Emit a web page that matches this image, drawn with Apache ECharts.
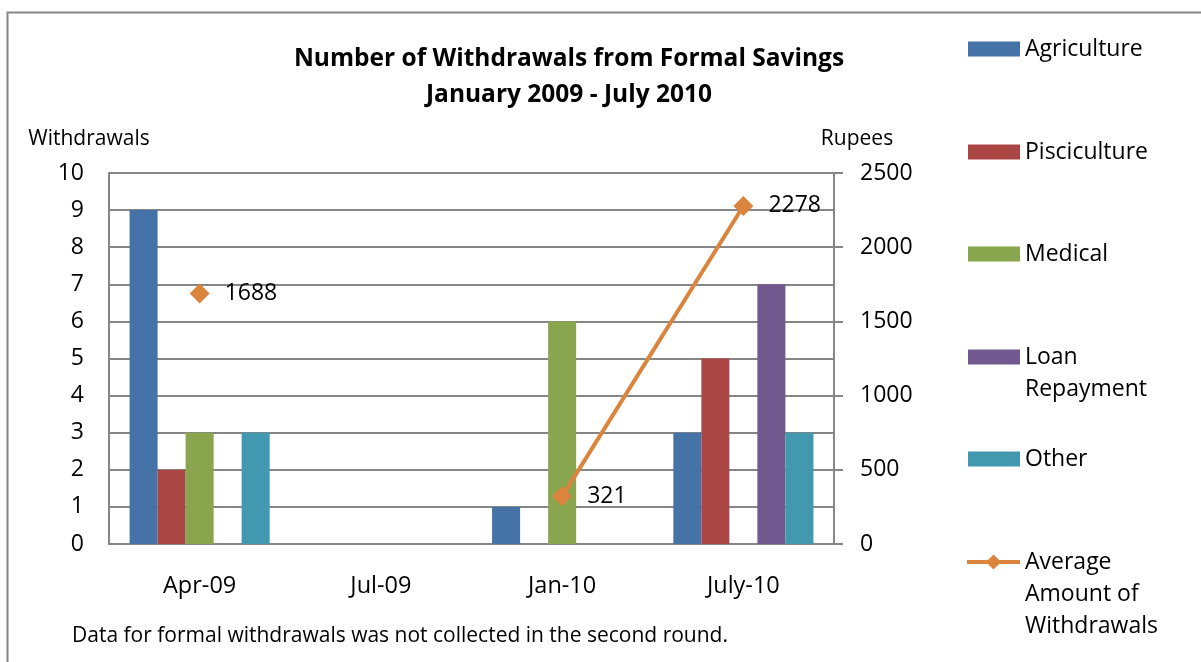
<!DOCTYPE html>
<html>
<head>
<meta charset="utf-8">
<title>Number of Withdrawals from Formal Savings</title>
<script src="https://cdn.jsdelivr.net/npm/echarts@6/dist/echarts.min.js"></script>
<style>
  html, body { margin: 0; padding: 0; background: #fff; }
  #chart { width: 1201px; height: 662px; }
</style>
</head>
<body>
<div id="chart"></div>
<script>
// Survey rounds
const categories = ['Apr-09', 'Jul-09', 'Jan-10', 'July-10'];

// Number of withdrawals by purpose (null = not collected that round)
const agriculture   = [9, null, 1, 3];
const pisciculture  = [2, null, 0, 5];
const medical       = [3, null, 6, 0];
const loanRepayment = [0, null, 0, 7];
const other         = [3, null, 0, 3];

// Average amount withdrawn, rupees
const averageAmount = [1688, null, 321, 2278];

// Axis tick settings
const withdrawalTicks = { min: 0, max: 10, interval: 1 };
const rupeeTicks = { min: 0, max: 2500, interval: 500 };

const FONT = '"Open Sans", Lato, sans-serif';
const GRID_COLOR = '#868686';

const barSeries = [
  { name: 'Agriculture', data: agriculture, color: '#4572A7' },
  { name: 'Pisciculture', data: pisciculture, color: '#AA4643' },
  { name: 'Medical', data: medical, color: '#89A54E' },
  { name: 'Loan\nRepayment', data: loanRepayment, color: '#71588F' },
  { name: 'Other', data: other, color: '#4198AF' }
];
const lineName = 'Average\nAmount of\nWithdrawals';
const LINE_COLOR = '#DB843D';

// One legend block per series, icon aligned with the first text line
const LEGEND_LINE = 32;
const legendRows = [49, 152, 254, 357, 459, 562];
const legendNames = barSeries.map(s => s.name).concat([lineName]);
const legends = legendNames.map((name, i) => {
  const n = name.split('\n').length;
  const textH = (2 * n - 1) * LEGEND_LINE;
  const isLine = i >= barSeries.length;
  const lg = {
    data: [name],
    left: isLine ? 965 : 968,
    top: legendRows[i] - textH / 2,
    padding: 0,
    itemWidth: isLine ? 53 : 52,
    itemHeight: isLine ? 19 : 15,
    selectedMode: false,
    formatter: nm => '\n'.repeat(n - 1) + nm,
    textStyle: { fontFamily: FONT, fontSize: 23, color: '#000', lineHeight: LEGEND_LINE }
  };
  if (isLine) {
    lg.lineStyle = { width: 4, color: LINE_COLOR };
  } else {
    lg.icon = 'rect';
  }
  return lg;
});

const chart = echarts.init(document.getElementById('chart'), null, { renderer: 'canvas' });

chart.setOption({
  animation: false,
  backgroundColor: '#fff',
  title: {
    text: 'Number of Withdrawals from Formal Savings\nJanuary 2009 - July 2010',
    left: 569,
    top: 41,
    padding: 0,
    textAlign: 'center',
    textStyle: { fontFamily: FONT, fontSize: 24.5, fontWeight: 'bold', color: '#000', lineHeight: 36 }
  },
  legend: legends,
  grid: { left: 109, top: 173, right: 367, bottom: 118, containLabel: false },
  xAxis: {
    type: 'category',
    data: categories,
    axisLine: { lineStyle: { color: GRID_COLOR, width: 2 } },
    axisTick: { show: false },
    axisLabel: { fontFamily: FONT, fontSize: 23.5, color: '#000', margin: 30 },
    splitLine: { show: false }
  },
  yAxis: [
    {
      type: 'value',
      position: 'left',
      ...withdrawalTicks,
      name: 'Withdrawals',
      nameLocation: 'end',
      nameGap: 23,
      nameTextStyle: { fontFamily: FONT, fontSize: 21, color: '#000', align: 'center', padding: [0, 40, 0, 0] },
      axisLine: { show: true, lineStyle: { color: GRID_COLOR, width: 2 } },
      axisTick: { show: false },
      axisLabel: { fontFamily: FONT, fontSize: 23, color: '#000', margin: 25, padding: [9, 0, 0, 0] },
      splitLine: { show: true, lineStyle: { color: GRID_COLOR, width: 2 } }
    },
    {
      type: 'value',
      position: 'right',
      ...rupeeTicks,
      name: 'Rupees',
      nameLocation: 'end',
      nameGap: 23,
      nameTextStyle: { fontFamily: FONT, fontSize: 21, color: '#000', align: 'center', padding: [0, 0, 0, 46] },
      axisLine: { show: true, lineStyle: { color: GRID_COLOR, width: 2 } },
      axisTick: { show: true, inside: false, length: 9, lineStyle: { color: GRID_COLOR, width: 2 } },
      axisLabel: { fontFamily: FONT, fontSize: 23, color: '#000', margin: 26, padding: [9, 0, 0, 0], formatter: v => String(v) },
      splitLine: { show: false }
    }
  ],
  series: barSeries.map(s => ({
    name: s.name,
    type: 'bar',
    yAxisIndex: 0,
    data: s.data,
    barGap: '0%',
    barCategoryGap: '22.7%',
    itemStyle: { color: s.color },
    emphasis: { disabled: true }
  })).concat([{
    name: lineName,
    type: 'line',
    yAxisIndex: 1,
    data: averageAmount,
    connectNulls: false,
    symbol: 'diamond',
    symbolSize: 20,
    showAllSymbol: true,
    itemStyle: { color: LINE_COLOR },
    lineStyle: { color: LINE_COLOR, width: 4 },
    label: {
      show: true,
      position: 'right',
      distance: 15,
      fontFamily: FONT,
      fontSize: 23,
      color: '#000'
    },
    emphasis: { disabled: true },
    z: 5
  }]),
  graphic: [
    {
      type: 'rect',
      shape: { x: 7.5, y: 12.5, width: 1400, height: 900 },
      style: { fill: 'none', stroke: GRID_COLOR, lineWidth: 2 },
      silent: true
    },
    {
      type: 'text',
      left: 72,
      top: 626,
      style: {
        text: 'Data for formal withdrawals was not collected in the second round.',
        font: '21px ' + FONT,
        fill: '#000'
      }
    }
  ]
});
</script>
</body>
</html>
